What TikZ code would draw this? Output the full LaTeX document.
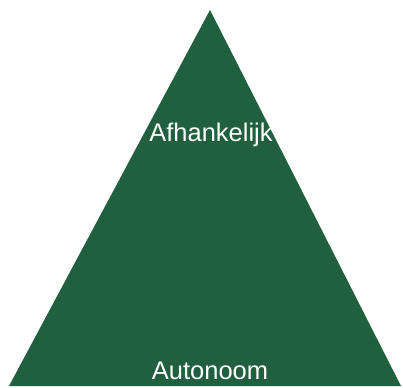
\documentclass[tikz,border=0pt]{standalone}
\usepackage{fontspec}
\setmainfont{Liberation Sans}
\usetikzlibrary{positioning}
\definecolor{PyrGreen}{RGB}{33,96,63}

\begin{document}
\begin{tikzpicture}[x=1pt,y=1pt,
  label text/.style={text=white,font=\fontsize{25.5}{30}\selectfont,inner sep=0pt,anchor=base},
]
\useasboundingbox (0,0) rectangle (403,387);
% pyramid
\coordinate (apex) at (210,377);
\coordinate (left) at (9,1);
\coordinate (right) at (401,1);
\fill[PyrGreen] (left) -- (apex) -- (right) -- cycle;
\node[label text] (top) at (211,245) {Afhankelijk};
\node[label text] (bottom) at (210,7) {Autonoom};
\end{tikzpicture}
\end{document}
